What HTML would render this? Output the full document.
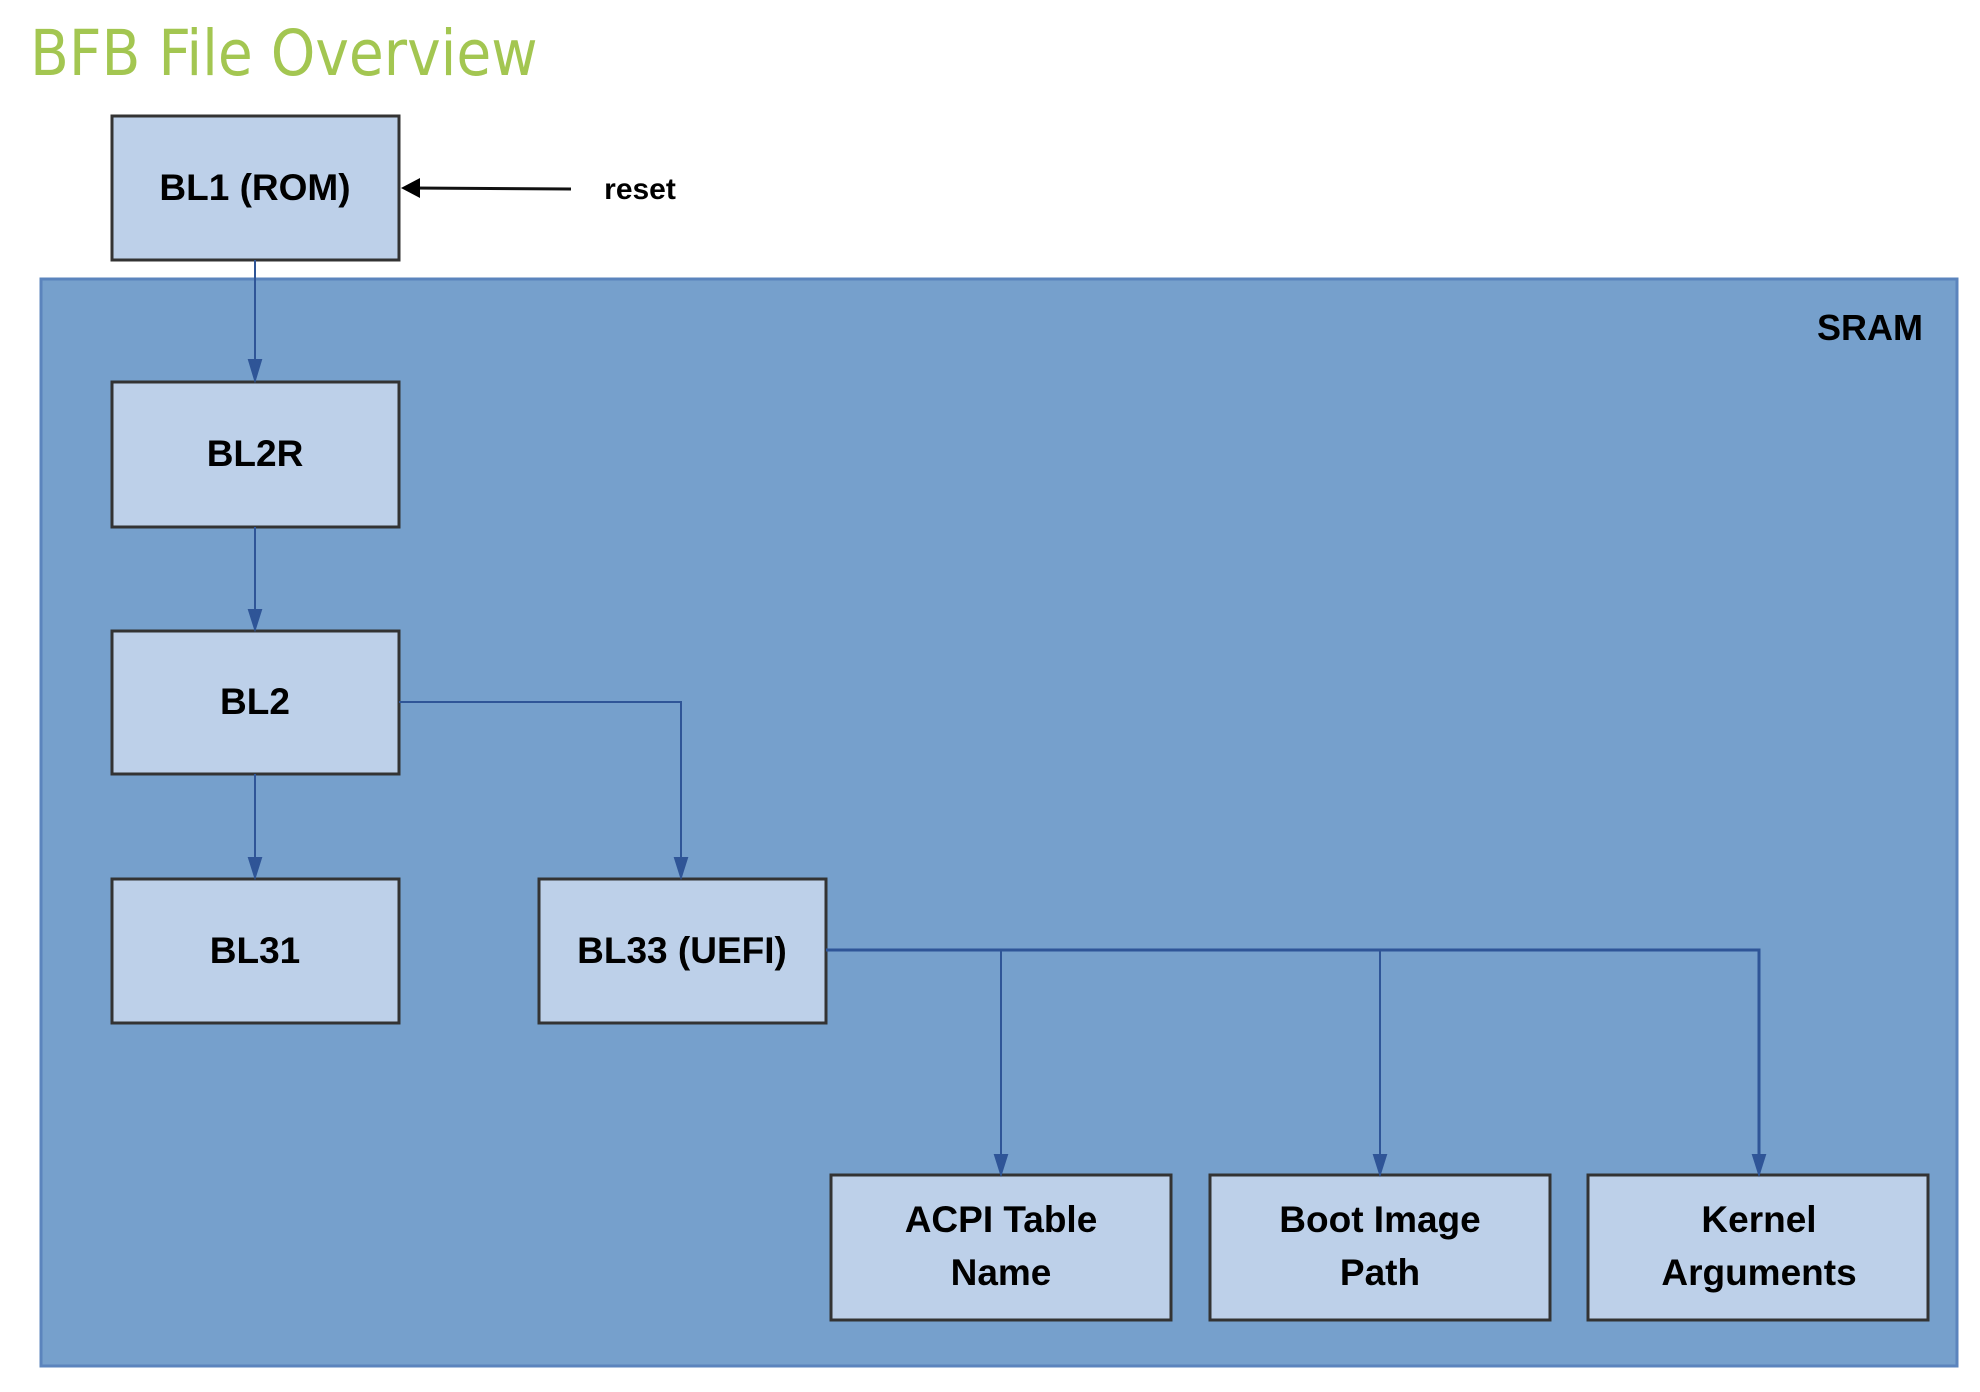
<!DOCTYPE html>
<html><head><style>
html,body{margin:0;padding:0;background:#fff;}
body{width:1980px;height:1392px;position:relative;overflow:hidden;font-family:"Liberation Sans",sans-serif;}
.t{position:absolute;left:30px;top:17px;font-size:63px;color:#a3c651;font-family:"DejaVu Sans Condensed","Liberation Sans",sans-serif;letter-spacing:0px;}
</style></head><body>
<div class="t">BFB File Overview</div>
<svg width="1980" height="1392" style="position:absolute;left:0;top:0">
<rect x="41" y="279" width="1916" height="1087" fill="#76a0cc" stroke="#5b84bd" stroke-width="3"/>
<g fill="#bdd0e9" stroke="#333" stroke-width="3">
<rect x="112" y="116" width="287" height="144"/>
<rect x="112" y="382" width="287" height="145"/>
<rect x="112" y="631" width="287" height="143"/>
<rect x="112" y="879" width="287" height="144"/>
<rect x="539" y="879" width="287" height="144"/>
<rect x="831" y="1175" width="340" height="145"/>
<rect x="1210" y="1175" width="340" height="145"/>
<rect x="1588" y="1175" width="340" height="145"/>
</g>
<g stroke="#2f5597" stroke-width="2" fill="none">
<line x1="255" y1="260" x2="255" y2="370" />
<path d="M249,360 L261,360 L255,380 z" fill="#2f5597"/>
<line x1="255" y1="527" x2="255" y2="620"/>
<path d="M249,610 L261,610 L255,629 z" fill="#2f5597"/>
<line x1="255" y1="774" x2="255" y2="868"/>
<path d="M249,858 L261,858 L255,877 z" fill="#2f5597"/>
<polyline points="399,702 681,702 681,868"/>
<path d="M675,858 L687,858 L681,877 z" fill="#2f5597"/>
<polyline points="826,950 1759,950 1759,1165" stroke-width="3"/>
<line x1="1001" y1="950" x2="1001" y2="1165"/>
<line x1="1380" y1="950" x2="1380" y2="1165"/>
<path d="M995,1155 L1007,1155 L1001,1174 z" fill="#2f5597"/>
<path d="M1374,1155 L1386,1155 L1380,1174 z" fill="#2f5597"/>
<path d="M1753,1155 L1765,1155 L1759,1174 z" fill="#2f5597"/>
</g>
<line x1="571" y1="189" x2="412" y2="188" stroke="#111" stroke-width="3"/>
<path d="M401,188 L420,178 L420,198 z" fill="#000"/>
<g font-family="Liberation Sans, sans-serif" font-weight="bold" font-size="37" fill="#000" text-anchor="middle">
<text x="255" y="200">BL1 (ROM)</text>
<text x="255" y="466">BL2R</text>
<text x="255" y="714">BL2</text>
<text x="255" y="963">BL31</text>
<text x="682" y="963">BL33 (UEFI)</text>
<text x="1001" y="1232">ACPI Table</text>
<text x="1001" y="1285">Name</text>
<text x="1380" y="1232">Boot Image</text>
<text x="1380" y="1285">Path</text>
<text x="1759" y="1232">Kernel</text>
<text x="1759" y="1285">Arguments</text>
<text x="1870" y="340" font-size="36">SRAM</text>
<text x="640" y="199" font-size="30">reset</text>
</g>
</svg>
</body></html>
